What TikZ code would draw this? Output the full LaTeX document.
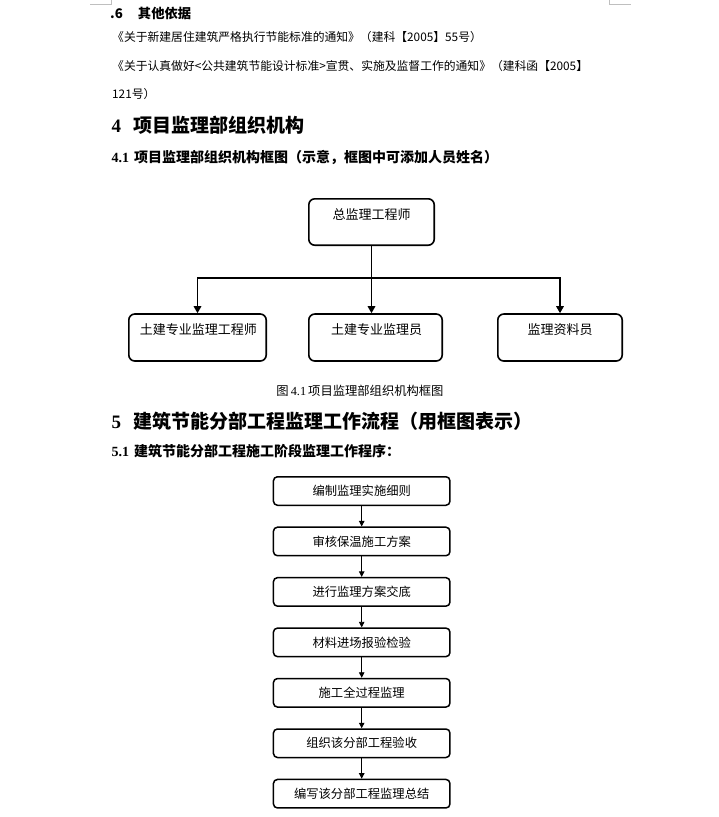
\documentclass[tikz,border=0pt]{standalone}
\usepackage{fontspec}
\setmainfont{Liberation Serif}
\newfontfamily\cjk{Noto Sans CJK SC}
\usetikzlibrary{arrows.meta}
\begin{document}
\begin{tikzpicture}[x=1pt,y=-1pt,
  orgbox/.style={draw, line width=1.6pt, rounded corners=6pt, inner sep=0pt, minimum height=47pt},
  flowbox/.style={draw, line width=1.5pt, rounded corners=4pt, minimum width=176.5pt, minimum height=28.5pt, inner sep=0pt, font=\cjk\fontsize{12.3}{14}\selectfont},
  orgtext/.style={inner sep=0pt, font=\cjk\fontsize{13}{15}\selectfont},
  orgarrow/.style={line width=1.5pt, -{Triangle[length=7pt,width=7.5pt]}},
  flowarrow/.style={line width=0.8pt, -{Triangle[length=5.5pt,width=5.5pt]}},
  body/.style={anchor=west, inner sep=0pt, font=\cjk\fontsize{11.8}{14}\selectfont},
  hbig/.style={anchor=west, inner sep=0pt, font=\bfseries\fontsize{19}{22}\selectfont},
  hsmall/.style={anchor=west, inner sep=0pt, font=\bfseries\fontsize{14}{17}\selectfont},
  cropmark/.style={draw=black!25, line width=0.8pt}
]
\useasboundingbox (0,0) rectangle (718,817);

% crop marks
\draw[cropmark] (90,4.3) -- (111.7,4.3) -- (111.7,0);
\draw[cropmark] (609,0) -- (609,4.3) -- (631,4.3);

% text lines
\node[anchor=west, inner sep=0pt, font=\cjk\bfseries\fontsize{13.3}{16}\selectfont] (s6) at (110,13.3) {.6\hspace{15pt}其他依据};
\node[body] (l1) at (112,37.5) {《关于新建居住建筑严格执行节能标准的通知》（建科【2005】55号）};
\node[body] (l2) at (112,66.5) {《关于认真做好<公共建筑节能设计标准>宣贯、实施及监督工作的通知》（建科函【2005】};
\node[body] (l3) at (112,94) {121号）};

\node[hbig] (h4) at (111.5,125) {4\hspace{12pt}{\cjk 项目监理部组织机构}};
\node[hsmall] (h41) at (111.5,157.5) {4.1\hspace{5pt}{\cjk 项目监理部组织机构框图（示意，框图中可添加人员姓名）}};

% org chart
\node[orgbox, minimum width=125.4pt, minimum height=46.4pt] (top) at (371.5,222) {};
\node[orgtext] (ttop) at (371.5,215) {总监理工程师};
\node[orgbox, minimum width=137.4pt] (b1) at (197.5,337.5) {};
\node[orgbox, minimum width=133.4pt] (b2) at (375.5,337.5) {};
\node[orgbox, minimum width=124.4pt] (b3) at (560,337.5) {};
\node[orgtext] (tb1) at (198.3,330) {土建专业监理工程师};
\node[orgtext] (tb2) at (376.7,330) {土建专业监理员};
\node[orgtext] (tb3) at (560,330) {监理资料员};
\coordinate (bus) at (371.5,278);
\draw[orgarrow] (top.south) -- (top.south |- b2.north);
\draw[orgarrow] (bus) -| (b1.north);
\draw[orgarrow] (bus) -| (b3.north);

\node[inner sep=0pt, font=\cjk\fontsize{12.3}{14}\selectfont] (cap) at (360,391) {图\,{\rmfamily 4.1}\,项目监理部组织机构框图};

\node[hbig] (h5) at (111.5,421) {5\hspace{12pt}{\cjk 建筑节能分部工程监理工作流程（用框图表示）}};
\node[hsmall] (h51) at (111.5,451.5) {5.1\hspace{5pt}{\cjk 建筑节能分部工程施工阶段监理工作程序：}};

% flow chart
\node[flowbox] (f1) at (361.7,491) {编制监理实施细则};
\node[flowbox] (f2) at (361.7,541.45) {审核保温施工方案};
\node[flowbox] (f3) at (361.7,591.9) {进行监理方案交底};
\node[flowbox] (f4) at (361.7,642.35) {材料进场报验检验};
\node[flowbox] (f5) at (361.7,692.8) {施工全过程监理};
\node[flowbox] (f6) at (361.7,743.25) {组织该分部工程验收};
\node[flowbox] (f7) at (361.7,793.7) {编写该分部工程监理总结};
\foreach \a/\b in {f1/f2,f2/f3,f3/f4,f4/f5,f5/f6,f6/f7}
  \draw[flowarrow] (\a.south) -- (\b.north);
\end{tikzpicture}
\end{document}
